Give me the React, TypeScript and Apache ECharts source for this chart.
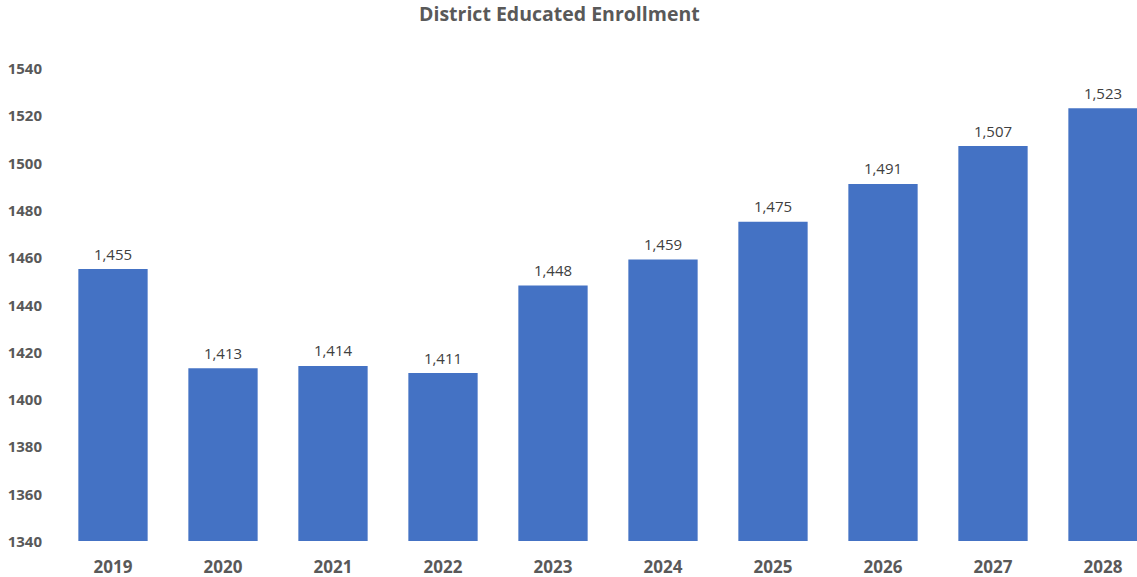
import React, { useEffect, useRef } from "react";
import * as echarts from "echarts";

const years = ["2019", "2020", "2021", "2022", "2023", "2024", "2025", "2026", "2027", "2028"];
const enrollment = [1455, 1413, 1414, 1411, 1448, 1459, 1475, 1491, 1507, 1523];
const yMin = 1340;
const yMax = 1540;
const yStep = 20;

export default function App() {
  const ref = useRef<HTMLDivElement>(null);
  useEffect(() => {
    if (!ref.current) return;
    const chart = echarts.init(ref.current, null, { renderer: "svg" });
    chart.setOption({
      animation: false,
      backgroundColor: "#ffffff",
      title: {
        text: "District Educated Enrollment",
        left: 414,
        top: -2,
        textStyle: { fontFamily: "Open Sans", fontSize: 19.5, fontWeight: "bold", color: "#595959" },
      },
      grid: { left: 58, top: 68, right: 0, bottom: 36, containLabel: false },
      xAxis: {
        type: "category",
        data: years,
        axisLine: { show: false },
        axisTick: { show: false },
        axisLabel: { margin: 17, fontFamily: "Open Sans", fontSize: 17, fontWeight: "bold", color: "#595959" },
      },
      yAxis: {
        type: "value",
        min: yMin,
        max: yMax,
        interval: yStep,
        splitLine: { show: false },
        axisLine: { show: false },
        axisTick: { show: false },
        axisLabel: {
          margin: 16,
          fontFamily: "Open Sans",
          fontSize: 15,
          fontWeight: "bold",
          color: "#595959",
          formatter: (v: number) => String(v),
        },
      },
      series: [
        {
          type: "bar",
          data: enrollment,
          barWidth: "63%",
          itemStyle: { color: "#4472C4" },
          label: {
            show: true,
            position: "top",
            distance: 8,
            fontFamily: "Open Sans",
            fontSize: 15,
            color: "#404040",
            formatter: (p: any) => Number(p.value).toLocaleString("en-US"),
          },
        },
      ],
    });
    return () => chart.dispose();
  }, []);
  return (
    <div style={{ position: "fixed", left: 0, top: 0, width: 1137, height: 577, overflow: "hidden", background: "#fff" }}>
      <div ref={ref} style={{ width: 1158, height: 577 }} />
    </div>
  );
}
